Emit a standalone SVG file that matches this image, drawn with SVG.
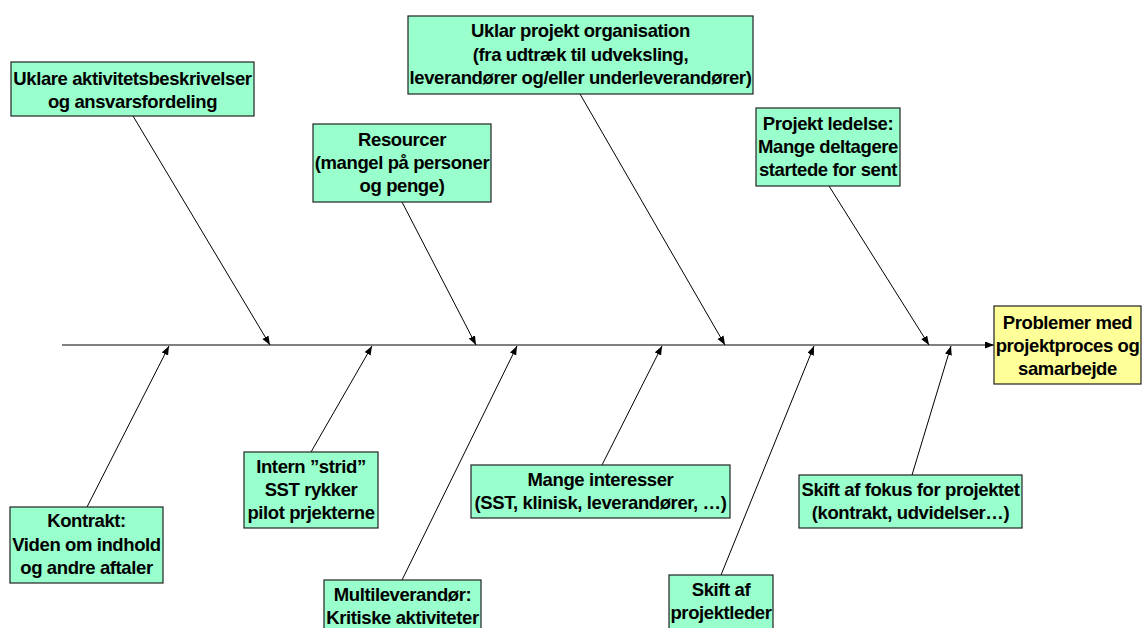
<svg xmlns="http://www.w3.org/2000/svg" width="1142" height="628" viewBox="0 0 1142 628">
<defs>
<marker id="ah" markerWidth="10" markerHeight="8" refX="9" refY="3.5" orient="auto" markerUnits="userSpaceOnUse">
<path d="M0,0 L9,3.5 L0,7 z" fill="#000"/>
</marker>
<style>
.box{fill:#99FFCC;stroke:#222;stroke-width:1.2}
.goal{fill:#FFFF99;stroke:#222;stroke-width:1.2}
text{font-family:"Liberation Sans",Arial,sans-serif;font-weight:bold;font-size:18.5px;letter-spacing:-0.4px;text-anchor:middle;fill:#000}
.c{stroke:#000;stroke-width:1;fill:none;marker-end:url(#ah)}
</style>
</defs>
<rect width="1142" height="628" fill="#fff"/>
<g id="connectors">
<line class="c" x1="62" y1="345" x2="994" y2="345"/>
<line class="c" x1="133" y1="116" x2="270" y2="345"/>
<line class="c" x1="402" y1="202" x2="476" y2="345"/>
<line class="c" x1="580" y1="94" x2="725" y2="345"/>
<line class="c" x1="829" y1="186" x2="929" y2="345"/>
<line class="c" x1="87" y1="507" x2="169" y2="346"/>
<line class="c" x1="311" y1="452" x2="372" y2="346"/>
<line class="c" x1="402" y1="580" x2="517" y2="346"/>
<line class="c" x1="602" y1="465" x2="662" y2="346"/>
<line class="c" x1="721" y1="575" x2="814" y2="346"/>
<line class="c" x1="912" y1="475" x2="951" y2="346"/>
</g>
<g id="uklare">
<rect class="box" x="11" y="62" width="243" height="54"/>
<text x="132.5" y="85">Uklare aktivitetsbeskrivelser</text>
<text x="132.5" y="107.5">og ansvarsfordeling</text>
</g>
<g id="resourcer">
<rect class="box" x="313" y="124" width="178" height="78"/>
<text x="402" y="146">Resourcer</text>
<text x="402" y="169">(mangel på personer</text>
<text x="402" y="192">og penge)</text>
</g>
<g id="uklar-projekt">
<rect class="box" x="408" y="16" width="345" height="78"/>
<text x="580.5" y="37">Uklar projekt organisation</text>
<text x="580.5" y="60.5">(fra udtræk til udveksling,</text>
<text x="580.5" y="84">leverandører og/eller underleverandører)</text>
</g>
<g id="projekt-ledelse">
<rect class="box" x="756" y="108" width="144" height="78"/>
<text x="828" y="129.5">Projekt ledelse:</text>
<text x="828" y="153">Mange deltagere</text>
<text x="828" y="176">startede for sent</text>
</g>
<g id="problemer">
<rect class="goal" x="994" y="306" width="147" height="78"/>
<text x="1067.5" y="329">Problemer med</text>
<text x="1067.5" y="352">projektproces og</text>
<text x="1067.5" y="374.5">samarbejde</text>
</g>
<g id="kontrakt">
<rect class="box" x="10" y="507" width="153" height="76"/>
<text x="86.5" y="527">Kontrakt:</text>
<text x="86.5" y="550.5">Viden om indhold</text>
<text x="86.5" y="574">og andre aftaler</text>
</g>
<g id="intern">
<rect class="box" x="244" y="452" width="134" height="76"/>
<text x="311" y="473">Intern ”strid”</text>
<text x="311" y="496">SST rykker</text>
<text x="311" y="519">pilot prjekterne</text>
</g>
<g id="multileverandor">
<rect class="box" x="324" y="580" width="157" height="60"/>
<text x="402.5" y="601">Multileverandør:</text>
<text x="402.5" y="623.5">Kritiske aktiviteter</text>
</g>
<g id="mange-interesser">
<rect class="box" x="471" y="465" width="259" height="53"/>
<text x="600.5" y="486">Mange interesser</text>
<text x="600.5" y="508.5">(SST, klinisk, leverandører, …)</text>
</g>
<g id="skift-projektleder">
<rect class="box" x="669" y="575" width="104" height="65"/>
<text x="721" y="596">Skift af</text>
<text x="721" y="618.5">projektleder</text>
</g>
<g id="skift-fokus">
<rect class="box" x="799" y="475" width="223" height="53"/>
<text x="910.5" y="496">Skift af fokus for projektet</text>
<text x="910.5" y="518.5">(kontrakt, udvidelser…)</text>
</g>
</svg>
